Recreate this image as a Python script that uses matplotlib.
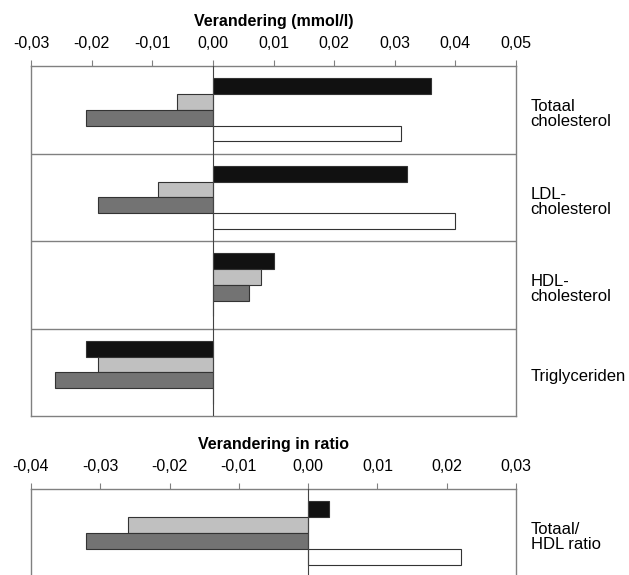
import numpy as np
import matplotlib.pyplot as plt

plt.rcParams['font.family'] = ['Liberation Sans', 'DejaVu Sans']

# Gegevens bovenste grafiek (mmol/l)
categories = ['Totaal\ncholesterol', 'LDL-\ncholesterol', 'HDL-\ncholesterol', 'Triglyceriden']
black_vals = [0.036, 0.032, 0.010, -0.021]
light_vals = [-0.006, -0.009, 0.008, -0.019]
dark_vals = [-0.021, -0.019, 0.006, -0.026]
white_vals = [0.031, 0.040, 0.0, 0.0]
ticks_top = [-0.03, -0.02, -0.01, 0.00, 0.01, 0.02, 0.03, 0.04, 0.05]
ticklabels_top = ['-0,03', '-0,02', '-0,01', '0,00', '0,01', '0,02', '0,03', '0,04', '0,05']

# Gegevens onderste grafiek (ratio)
ratio_category = ['Totaal/\nHDL ratio']
ratio_black = [0.003]
ratio_light = [-0.026]
ratio_dark = [-0.032]
ratio_white = [0.022]
ticks_bottom = [-0.04, -0.03, -0.02, -0.01, 0.00, 0.01, 0.02, 0.03]
ticklabels_bottom = ['-0,04', '-0,03', '-0,02', '-0,01', '0,00', '0,01', '0,02', '0,03']

colors = ['#111111', '#c0c0c0', '#737373', '#ffffff']
box_color = '#808080'
h = 0.18
margin = (1 - 4 * h) / 2


def draw_panel(ax, cats, series, ticks, ticklabels, title):
    n = len(cats)
    for i, vals in enumerate(series):
        y = np.arange(n) + margin + h * i + h / 2
        ax.barh(y, vals, height=h, color=colors[i], edgecolor='#333333', linewidth=0.8, zorder=3)
    ax.set_ylim(n, 0)
    ax.set_xlim(ticks[0], ticks[-1])
    ax.set_yticks([])
    ax.xaxis.tick_top()
    ax.set_xticks(ticks)
    ax.set_xticklabels(ticklabels, fontsize=11.5)
    ax.tick_params(axis='x', direction='out', length=4, width=0.8, color=box_color, pad=7)
    ax.xaxis.set_label_position('top')
    ax.set_xlabel(title, fontsize=11.5, fontweight='bold', labelpad=7)
    for s in ax.spines.values():
        s.set_color(box_color)
        s.set_linewidth(1.0)
    for k in range(1, n):
        ax.axhline(k, color=box_color, linewidth=1.0, zorder=1)
    ax.axvline(0, color='#444444', linewidth=0.8, zorder=4)
    for k, c in enumerate(cats):
        ax.text(1.03, k + 0.55, c, transform=ax.get_yaxis_transform(), fontsize=12,
                ha='left', va='center', linespacing=1.0)


fig = plt.figure(figsize=(6.29, 5.75), dpi=100)
ax1 = fig.add_axes([31 / 629, 1 - 416 / 575, 485 / 629, 350 / 575])
ax2 = fig.add_axes([31 / 629, 1 - 577 / 575, 485 / 629, 88 / 575])

draw_panel(ax1, categories, [black_vals, light_vals, dark_vals, white_vals],
           ticks_top, ticklabels_top, 'Verandering (mmol/l)')
draw_panel(ax2, ratio_category, [ratio_black, ratio_light, ratio_dark, ratio_white],
           ticks_bottom, ticklabels_bottom, 'Verandering in ratio')

fig.savefig('out.png', dpi=100)
